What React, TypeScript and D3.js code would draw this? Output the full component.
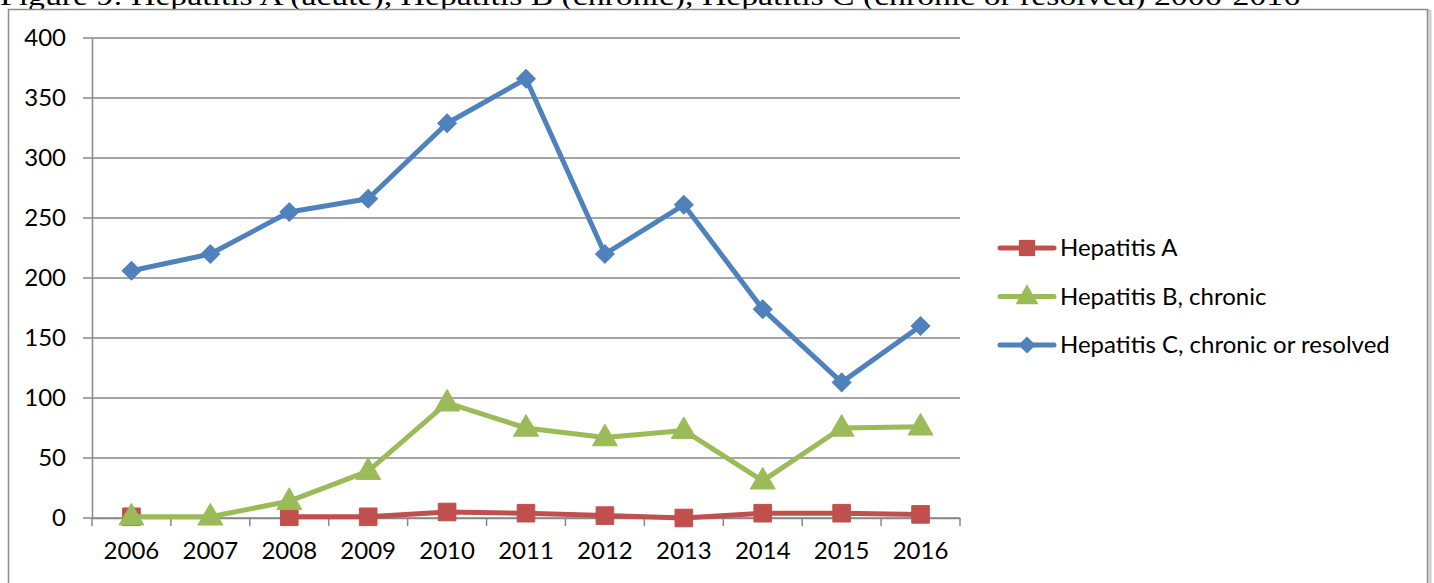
import { useEffect, useRef } from 'react';
import * as d3 from 'd3';

const YEARS = ['2006', '2007', '2008', '2009', '2010', '2011', '2012', '2013', '2014', '2015', '2016'];
const HEP_A: (number | null)[] = [1, null, 1, 1, 5, 4, 2, 0, 4, 4, 3];
const HEP_B: (number | null)[] = [1, 1, 14, 39, 96, 75, 67, 73, 31, 75, 76];
const HEP_C: (number | null)[] = [206, 220, 255, 266, 329, 366, 220, 261, 174, 113, 160];
const Y_TICKS = [0, 50, 100, 150, 200, 250, 300, 350, 400];

const SERIES = [
  { name: 'Hepatitis A', values: HEP_A, color: '#C0504D', marker: 'square' },
  { name: 'Hepatitis B, chronic', values: HEP_B, color: '#9BBB59', marker: 'triangle' },
  { name: 'Hepatitis C, chronic or resolved', values: HEP_C, color: '#4F81BD', marker: 'diamond' },
];

const TITLE = 'Figure 9: Hepatitis A (acute), Hepatitis B (chronic), Hepatitis C (chronic or resolved) 2006-2016';
const FONT = 'Lato, "Open Sans", sans-serif';

export default function App() {
  const svgRef = useRef<SVGSVGElement | null>(null);

  useEffect(() => {
    document.body.style.margin = '0';
    if (!svgRef.current) return;
    const W = 1434;
    const H = 583;
    const PLOT = { left: 92, right: 960, top: 38, bottom: 518 };

    const svg = d3.select(svgRef.current);
    svg.selectAll('*').remove();
    svg.attr('width', W).attr('height', H).attr('viewBox', `0 0 ${W} ${H}`);

    svg.append('rect').attr('width', W).attr('height', H).attr('fill', '#fff');

    // Title (clipped at top in the source)
    svg.append('text')
      .attr('x', 0)
      .attr('y', 5)
      .attr('font-family', '"Liberation Serif", "DejaVu Serif", serif')
      .attr('font-size', 27)
      .attr('textLength', 1300)
      .attr('lengthAdjust', 'spacingAndGlyphs')
      .attr('fill', '#000')
      .text(TITLE);

    // Chart frame
    svg.append('rect')
      .attr('x', 10).attr('y', 11).attr('width', 1420).attr('height', 620)
      .attr('fill', 'none').attr('stroke', '#d0d0d0').attr('stroke-width', 3);
    svg.append('rect')
      .attr('x', 8.5).attr('y', 9.5).attr('width', 1419).attr('height', 620)
      .attr('fill', '#fff').attr('stroke', '#8c8c8c').attr('stroke-width', 1.5);

    const x = d3.scaleBand().domain(YEARS).range([PLOT.left, PLOT.right]);
    const y = d3.scaleLinear().domain([0, 400]).range([PLOT.bottom, PLOT.top]);

    // Gridlines
    svg.append('g')
      .selectAll('line')
      .data(Y_TICKS)
      .join('line')
      .attr('x1', PLOT.left - 9).attr('x2', PLOT.right)
      .attr('y1', d => y(d)).attr('y2', d => y(d))
      .attr('stroke', '#878787').attr('stroke-width', 1.5);

    // Y axis
    const yAxis = d3.axisLeft(y).tickValues(Y_TICKS).tickSize(0).tickPadding(26);
    svg.append('g')
      .attr('transform', `translate(${PLOT.left},0)`)
      .call(yAxis)
      .call(g => g.select('.domain').attr('stroke', '#878787').attr('stroke-width', 1.5))
      .call(g => g.selectAll('.tick text')
        .attr('fill', '#000').attr('font-size', 24).attr('font-family', FONT));

    // X axis
    const xAxis = d3.axisBottom(x).tickSize(0).tickPadding(24);
    svg.append('g')
      .attr('transform', `translate(0,${PLOT.bottom})`)
      .call(xAxis)
      .call(g => g.select('.domain').attr('stroke', '#878787').attr('stroke-width', 1.5))
      .call(g => g.selectAll('.tick text')
        .attr('fill', '#000').attr('font-size', 24).attr('font-family', FONT));

    svg.append('g')
      .selectAll('line')
      .data([...YEARS.map(d => x(d) as number), PLOT.right])
      .join('line')
      .attr('x1', d => d).attr('x2', d => d)
      .attr('y1', PLOT.bottom).attr('y2', PLOT.bottom + 8)
      .attr('stroke', '#878787').attr('stroke-width', 1.5);

    const symbolFor = (m: string) => (m === 'triangle' ? d3.symbolTriangle : d3.symbolSquare);
    const sizeFor = (m: string) => (m === 'square' ? 310 : m === 'triangle' ? 270 : 175);
    const rot = (m: string) => (m === 'diamond' ? ' rotate(45)' : '');

    const cx = (i: number) => (x(YEARS[i]) as number) + x.bandwidth() / 2;

    SERIES.forEach(s => {
      const line = d3.line<number | null>()
        .defined(d => d != null)
        .x((d, i) => cx(i))
        .y(d => y(d as number));

      svg.append('path')
        .datum(s.values)
        .attr('d', line)
        .attr('fill', 'none')
        .attr('stroke', s.color)
        .attr('stroke-width', 5)
        .attr('stroke-linejoin', 'round')
        .attr('stroke-linecap', 'round');

      const pts = s.values.map((v, i) => ({ v, i })).filter(p => p.v != null);
      svg.append('g')
        .selectAll('path')
        .data(pts)
        .join('path')
        .attr('transform', p =>
          `translate(${cx(p.i)},${y(p.v as number) + (s.marker === 'triangle' ? 1 : 0)})${rot(s.marker)}`)
        .attr('d', d3.symbol().type(symbolFor(s.marker)).size(sizeFor(s.marker))())
        .attr('fill', s.color)
        .attr('stroke', s.color)
        .attr('stroke-width', 1);
    });

    // Legend
    const legend = svg.append('g').attr('transform', 'translate(1000,248)');
    SERIES.forEach((s, i) => {
      const row = legend.append('g').attr('transform', `translate(0,${i * 48.5})`);
      row.append('line')
        .attr('x1', 0).attr('x2', 54).attr('y1', 0).attr('y2', 0)
        .attr('stroke', s.color).attr('stroke-width', 5).attr('stroke-linecap', 'round');
      row.append('path')
        .attr('transform', `translate(27,${s.marker === 'triangle' ? 1 : 0})${rot(s.marker)}`)
        .attr('d', d3.symbol().type(symbolFor(s.marker)).size(sizeFor(s.marker) * 0.85)())
        .attr('fill', s.color);
      row.append('text')
        .attr('x', 60).attr('y', 0).attr('dy', '0.35em')
        .attr('font-family', FONT).attr('font-size', 24)
        .attr('fill', '#000')
        .text(s.name);
    });
  }, []);

  return <svg ref={svgRef} style={{ display: 'block' }} />;
}
